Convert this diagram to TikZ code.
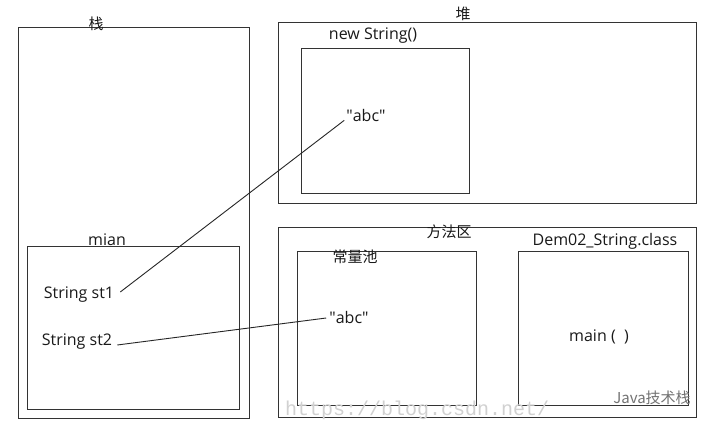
\documentclass[tikz,border=0pt]{standalone}
\usepackage{fontspec}
\setmainfont{Open Sans}
\newfontfamily\cjk{Noto Sans CJK SC}
\newfontfamily\wmfont{Liberation Mono}
\begin{document}
\begin{tikzpicture}[x=1pt,y=-1pt,
  box/.style={draw=black!80, line width=1.1pt, inner sep=0pt, anchor=north west},
  lbl/.style={font=\fontsize{16}{18}\selectfont, inner sep=0pt, text=black!90},
  clbl/.style={font=\cjk\fontsize{15}{17}\selectfont, inner sep=0pt, text=black!90},
  link/.style={draw=black!85, line width=0.9pt}]
\useasboundingbox[fill=white] (0,0) rectangle (720,435);
% stack
\node[box, minimum width=231pt, minimum height=391pt] (stack) at (18,27) {};
\node[clbl] (stacklbl) at (96,24) {栈};
\node[box, minimum width=212pt, minimum height=163pt] (mianbox) at (27,246) {};
\node[lbl] (mian) at (107,240) {mian};
\node[lbl] (st1) at (79,295) {String st1};
\node[lbl] (st2) at (77,342) {String st2};
% heap
\node[box, minimum width=418pt, minimum height=181pt] (heap) at (278,22) {};
\node[clbl] (heaplbl) at (463,14) {堆};
\node[lbl] (newstr) at (373,36) {new String()};
\node[box, minimum width=168pt, minimum height=145pt] (objbox) at (301,48) {};
\node[lbl] (abc1) at (366,116) {\textquotedbl abc\textquotedbl};
% method area
\node[box, minimum width=418pt, minimum height=190pt] (method) at (278,227) {};
\node[clbl] (methodlbl) at (449,232) {方法区};
\node[box, minimum width=179pt, minimum height=154pt] (pool) at (297,251) {};
\node[clbl] (poollbl) at (355,257) {常量池};
\node[lbl] (abc2) at (349,318) {\textquotedbl abc\textquotedbl};
\node[box, minimum width=170pt, minimum height=154pt] (classbox) at (518,251) {};
\node[lbl] (classlbl) at (605,241) {Dem02\_String.class};
\node[lbl] (mainm) at (599,337) {main (\ \ )};
% links
\draw[link] ([xshift=6pt,yshift=3pt]st1.east) -- ([xshift=-2pt,yshift=2pt]abc1.south west);
\draw[link] ([xshift=5pt,yshift=-3pt]st2.east) -- ([xshift=-3pt]abc2.west);
% watermark
\node[inner sep=0pt, anchor=west, text=black!18, font=\wmfont\fontsize{20}{22}\selectfont] (wm) at (285,410) {https://blog.csdn.net/};
\node[inner sep=0pt, text=black!55, font=\cjk\fontsize{15}{17}\selectfont] (wm2) at (652,398) {Java技术栈};
\end{tikzpicture}
\end{document}
